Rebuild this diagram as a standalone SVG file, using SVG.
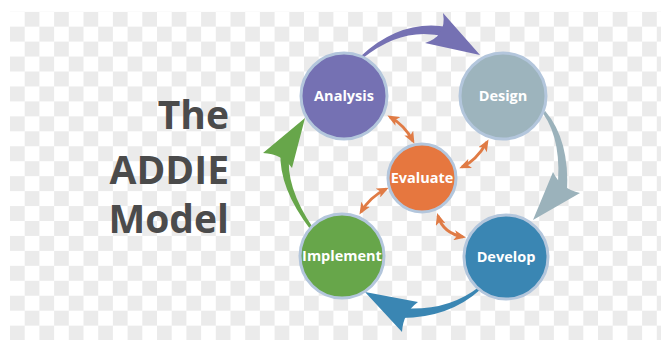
<svg xmlns="http://www.w3.org/2000/svg" width="661" height="340" viewBox="0 0 661 340">
  <defs>
    <pattern id="checker" patternUnits="userSpaceOnUse" x="10" y="11.7" width="29.4" height="29.9">
      <rect x="14.7" y="0" width="14.7" height="14.95" fill="#ebebeb"/>
      <rect x="0" y="14.95" width="14.7" height="14.95" fill="#ebebeb"/>
    </pattern>
    <marker id="oh" viewBox="0 0 12 10" markerUnits="userSpaceOnUse" markerWidth="12" markerHeight="10" refX="9" refY="5" orient="auto-start-reverse">
      <path d="M0,0 L12,5 L0,10 L3,5 Z" fill="#e07b45"/>
    </marker>
    <style>
      .node { stroke: #b3c6dc; stroke-width: 3; }
      .lbl { font-family: "Open Sans", "Liberation Sans", sans-serif; font-weight: 700; font-size: 14.5px; fill: #ffffff; text-anchor: middle; }
      .title { font-family: "Open Sans", "Liberation Sans", sans-serif; font-weight: 700; font-size: 39px; fill: #4b4b4b; text-anchor: end; }
      .small { fill: none; stroke: #e07b45; stroke-width: 2.8; marker-start: url(#oh); marker-end: url(#oh); }
    </style>
  </defs>

  <rect x="0" y="0" width="661" height="340" fill="#ffffff"/>
  <rect x="10" y="11.7" width="651" height="328.3" fill="url(#checker)"/>

  <g id="title">
    <text class="title" x="229" y="129">The</text>
    <text class="title" x="229" y="184">ADDIE</text>
    <text class="title" x="229" y="233">Model</text>
  </g>

  <g id="connectors">
    <!-- Analysis -> Design -->
    <g fill="#7571b3">
      <path d="M361,55.9 Q401.4,18.7 448,27 L446,37 Q403.6,25.3 363,58.1 Z"/>
      <path d="M443,13 L480,55 L425,43 Q447,36 443,13 Z"/>
    </g>
    <!-- Design -> Develop -->
    <g fill="#9bb2bb">
      <path d="M545.2,111.1 Q569.9,140 567,192.5 L557,191.5 Q563.1,142 542.8,112.9 Z"/>
      <path d="M553,172 L533,220 L580,193 Q561,189 553,172 Z"/>
    </g>
    <!-- Develop -> Implement -->
    <g fill="#3a86b3">
      <path d="M481,289.1 Q448.6,318.8 398.7,318 L399.3,308 Q446.4,312.2 479,286.9 Z"/>
      <path d="M418,302 L365,292 L402,332 Q403,313 418,302 Z"/>
    </g>
    <!-- Implement -> Analysis -->
    <g fill="#67a64a">
      <path d="M310.8,229.9 Q278.5,188.1 280.5,151.5 L289.5,152.5 Q284.5,185.9 313.2,228.1 Z"/>
      <path d="M263,153 L305,118 L292,168 Q282,154 263,153 Z"/>
    </g>
    <!-- Evaluate double arrows -->
    <path class="small" d="M390,117 Q404.5,125 413,141"/>
    <path class="small" d="M487,142 Q476,161 462,167"/>
    <path class="small" d="M386,189 Q370,197 361,212"/>
    <path class="small" d="M438,216 Q443,233 463,237"/>
  </g>

  <g id="analysis">
    <circle class="node" cx="344" cy="96" r="43" fill="#7571b3"/>
    <text class="lbl" x="344" y="101.2">Analysis</text>
  </g>
  <g id="design">
    <circle class="node" cx="503" cy="96" r="43" fill="#9db4bd"/>
    <text class="lbl" x="503" y="101.2">Design</text>
  </g>
  <g id="evaluate">
    <circle class="node" cx="422" cy="178" r="34" fill="#e6773f"/>
    <text class="lbl" x="422" y="183.2">Evaluate</text>
  </g>
  <g id="implement">
    <circle class="node" cx="342" cy="256" r="42" fill="#67a64a"/>
    <text class="lbl" x="342" y="261.2">Implement</text>
  </g>
  <g id="develop">
    <circle class="node" cx="506" cy="257" r="42" fill="#3a86b3"/>
    <text class="lbl" x="506" y="262.2">Develop</text>
  </g>
</svg>
